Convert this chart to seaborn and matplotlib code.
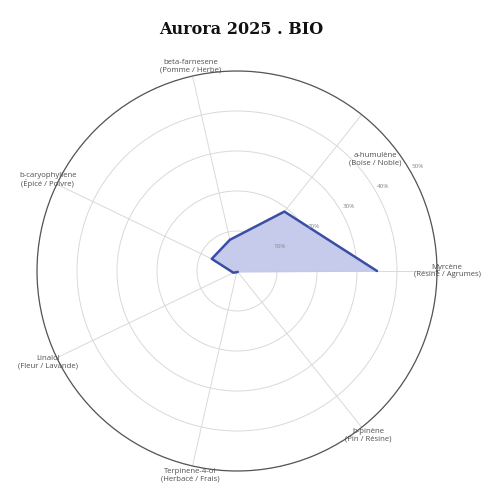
import numpy as np
import pandas as pd
import matplotlib
matplotlib.use("Agg")
import matplotlib.pyplot as plt
import seaborn as sns

sns.set_theme(style="white")
plt.rcParams['font.family'] = ['Open Sans', 'DejaVu Sans']

# data
terpenes = ['Myrcène', 'a-humulène', 'beta-farnesene', 'b-caryophyllene',
            'Linalol', 'Terpinene-4-ol', 'b-pinène']
aromas = ['(Résine / Agrumes)', '(Boise / Noble)', '(Pomme / Herbe)', '(Épicé / Poivre)',
          '(Fleur / Lavande)', '(Herbacé / Frais)', '(Pin / Résine)']
percent = [35, 19, 8, 7, 1, 0.3, 0.3]
r_ticks = [10, 20, 30, 40, 50]
r_labels = ['10%', '20%', '30%', '40%', '50%']

df = pd.DataFrame({'terpene': terpenes, 'percent': percent})
n = len(df)
df['theta'] = np.arange(n) * 2 * np.pi / n
closed = pd.concat([df, df.iloc[:1]], ignore_index=True)

fig = plt.figure(figsize=(5, 5), dpi=100)
ax = fig.add_axes([0.074, 0.058, 0.8, 0.8], projection='polar')

line_col = '#3a4ea6'
fill_col = '#c3c9ea'
ax.fill(closed['theta'], closed['percent'], color=fill_col, alpha=0.95, zorder=2)
sns.lineplot(data=closed, x='theta', y='percent', sort=False, ax=ax,
             color=line_col, lw=1.8, zorder=3)

ax.set_ylim(0, 50)
ax.set_yticks(r_ticks)
ax.set_yticklabels([])
ax.set_xticks(df['theta'])
ax.set_xticklabels([])
ax.grid(True, color='#d9d9d9', lw=0.7)
ax.spines['polar'].set_color('#555555')
ax.spines['polar'].set_linewidth(0.9)
ax.set_xlabel('')
ax.set_ylabel('')

# radial tick labels, sitting a bit outside each ring
for r, lab in zip(r_ticks, r_labels):
    ax.text(np.deg2rad(30), r + 2.2, lab, ha='center', va='center',
            fontsize=4.5, color='#888888', zorder=4)

# category labels around the outside
for i, (name, aroma) in enumerate(zip(terpenes, aromas)):
    th = df['theta'][i]
    rr = 52.5
    if i == 1:
        th, rr = np.deg2rad(39), 44.5
    ax.text(th, rr, f'{name}\n{aroma}', ha='center', va='center',
            fontsize=5.6, color='#505050', linespacing=1.1, zorder=4)

fig.text(0.482, 0.94, 'Aurora 2025 . BIO', ha='center', va='center',
         fontsize=11.5, fontweight='heavy', family='DejaVu Serif', color='#111111')

fig.savefig('out.png', dpi=100, facecolor='white')
